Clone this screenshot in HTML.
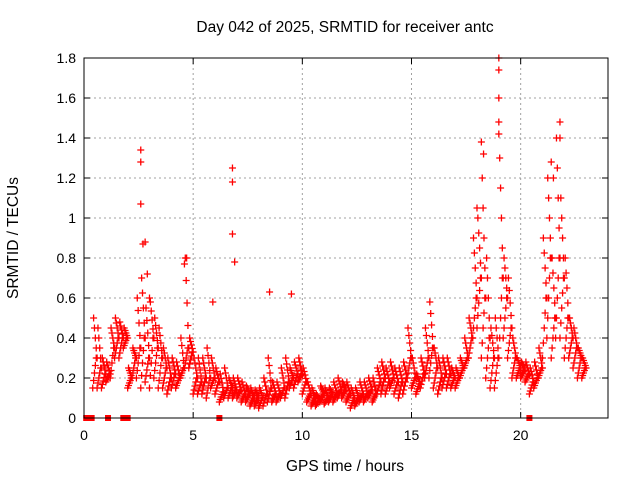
<!DOCTYPE html>
<html><head><meta charset="utf-8"><style>
body{margin:0;background:#fff}
svg text{font-family:"Liberation Sans",sans-serif;font-size:14px;fill:#000}
svg text.big{font-size:15.5px}
</style></head><body>
<svg id="chart" width="640" height="480" xmlns="http://www.w3.org/2000/svg">
<text class="big" x="345" y="32" text-anchor="middle">Day 042 of 2025, SRMTID for receiver antc</text>
<text class="big" transform="translate(18,238) rotate(-90)" text-anchor="middle">SRMTID / TECUs</text>
<text class="big" x="345" y="471" text-anchor="middle">GPS time / hours</text>
<g id="grid"></g><g id="marks"></g><g id="axes"></g>
</svg>
<script>
const xTicks=[0,5,10,15,20];
const yTicks=[0,0.2,0.4,0.6,0.8,1,1.2,1.4,1.6,1.8];
const yTickLabels=["0","0.2","0.4","0.6","0.8","1","1.2","1.4","1.6","1.8"];
const startHour=0.4, stepHour=0.2;
const lo=[.15,.15,.15,.18,.2,.3,.3,.35,.15,.2,.2,.15,.18,.15,.2,.15,.15,.12,.15,.15,.2,.25,.25,.12,.12,.12,.1,.15,.12,.08,.1,.1,.1,.1,.08,.08,.06,.06,.05,.06,.08,.08,.08,.1,.1,.15,.15,.18,.12,.08,.06,.06,.08,.07,.08,.08,.1,.1,.08,.05,.06,.08,.08,.1,.08,.12,.12,.12,.15,.12,.1,.12,.2,.15,.12,.15,.2,.2,.15,.12,.15,.15,.15,.15,.2,.25,.3,.4,.45,.3,.2,.15,.15,.3,.4,.3,.2,.2,.2,.18,.12,.15,.2,.3,.4,.3,.4,.4,.3,.3,.25,.2,.2];
const mid=[.3,.25,.22,.22,.35,.4,.4,.4,.2,.3,.35,.4,.3,.4,.35,.3,.25,.2,.22,.2,.25,.35,.33,.2,.18,.2,.2,.2,.18,.13,.15,.15,.14,.14,.12,.12,.1,.1,.1,.12,.15,.12,.12,.15,.18,.2,.22,.22,.18,.12,.1,.09,.12,.1,.12,.12,.14,.14,.12,.1,.1,.12,.12,.14,.12,.18,.2,.18,.2,.18,.18,.2,.3,.2,.17,.22,.3,.35,.25,.2,.22,.22,.2,.2,.25,.3,.4,.6,.7,.6,.4,.3,.3,.7,.6,.45,.3,.25,.24,.22,.18,.2,.25,.6,.8,.5,.8,.7,.5,.4,.35,.3,.25];
const hi=[.5,.45,.3,.28,.45,.5,.48,.45,.25,.35,.6,.7,.55,.58,.5,.45,.35,.3,.3,.28,.4,.8,.4,.3,.3,.3,.35,.3,.25,.22,.25,.2,.2,.2,.18,.16,.15,.14,.15,.2,.3,.18,.18,.25,.3,.25,.28,.3,.25,.18,.15,.12,.16,.15,.15,.18,.2,.18,.18,.15,.15,.18,.18,.2,.2,.25,.28,.25,.28,.25,.25,.28,.45,.3,.22,.3,.45,.58,.35,.3,.3,.3,.25,.25,.3,.4,.5,.9,1.0,1.2,.8,.45,.5,1.3,.8,.7,.4,.3,.28,.28,.25,.28,.35,.9,1.2,.8,1.4,1.1,.8,.5,.45,.35,.3];
const spikeHours=[2.6,2.6,2.6,2.8,2.7,6.8,6.8,6.8,6.9,8.5,9.5,5.9,19.0,19.0,19.0,18.2,18.3,19.0,19.0,21.8,21.8,21.4,21.5,18.0,4.6,3.0,2.9,4.7];
const spikeValues=[1.34,1.28,1.07,0.88,0.87,1.25,1.18,0.92,0.78,0.63,0.62,0.58,1.8,1.74,1.6,1.38,1.32,1.48,1.42,1.48,1.4,1.28,1.2,1.05,0.77,0.6,0.72,0.8];
const zeroHours=[0.1,0.35,1.1,1.8,1.9,2.0,6.2,20.4];
const L=84,R=608,T=58,B=418,xMax=24,yMax=1.8;
const X=v=>L+v/xMax*(R-L), Y=v=>B-v/yMax*(B-T);
const NS="http://www.w3.org/2000/svg";
function mk(tag,attrs,parent){const e=document.createElementNS(NS,tag);for(const k in attrs)e.setAttribute(k,attrs[k]);parent.appendChild(e);return e;}
const grid=document.getElementById('grid'),axes=document.getElementById('axes'),marks=document.getElementById('marks');
yTicks.forEach((v,i)=>{
 if(v>0&&v<yMax){const g=mk('line',{x1:L,x2:R,y1:Y(v),y2:Y(v),stroke:'#a0a0a0','stroke-dasharray':'2,3'},grid);
 }
 const tk=mk('line',{x1:L,x2:L+6,y1:Y(v),y2:Y(v),stroke:'#000'},axes);
 
 mk('line',{x1:R,x2:R-6,y1:Y(v),y2:Y(v),stroke:'#000'},axes);
 const t=mk('text',{x:L-8,y:Y(v)+5,'text-anchor':'end'},axes);t.textContent=yTickLabels[i];
 
});
xTicks.forEach(v=>{
 if(v>0){const g=mk('line',{x1:X(v),x2:X(v),y1:T,y2:B,stroke:'#a0a0a0','stroke-dasharray':'2,3'},grid);
 }
 const tk=mk('line',{x1:X(v),x2:X(v),y1:B,y2:B-6,stroke:'#000'},axes);
 
 mk('line',{x1:X(v),x2:X(v),y1:T,y2:T+6,stroke:'#000'},axes);
 const t=mk('text',{x:X(v),y:B+22,'text-anchor':'middle'},axes);t.textContent=String(v);
 
});
const frame=mk('rect',{x:L,y:T,width:R-L,height:B-T,fill:'none',stroke:'#000'},axes);

function plus(h,v){const x=X(h),y=Y(v);
 const p=mk('path',{d:`M${x-3.5} ${y}h7M${x} ${y-3.5}v7`,stroke:'#f00','stroke-width':1.3,fill:'none'},marks);
 }
const fr=[0,0.25,0.5,0.75,1];
lo.forEach((v,i)=>{const h=startHour+i*stepHour;
 fr.forEach((f,j)=>{plus(h+j*0.04,v+(mid[i]-v)*f);});
 fr.forEach((f,j)=>{plus(h+0.2-j*0.04,mid[i]+(hi[i]-mid[i])*f);});
});
spikeHours.forEach((h,i)=>plus(h,spikeValues[i]));
zeroHours.forEach(h=>{const r=mk('rect',{x:X(h)-3,y:B-3,width:6,height:6,fill:'#f00'},marks);
 });
</script>
</body></html>
